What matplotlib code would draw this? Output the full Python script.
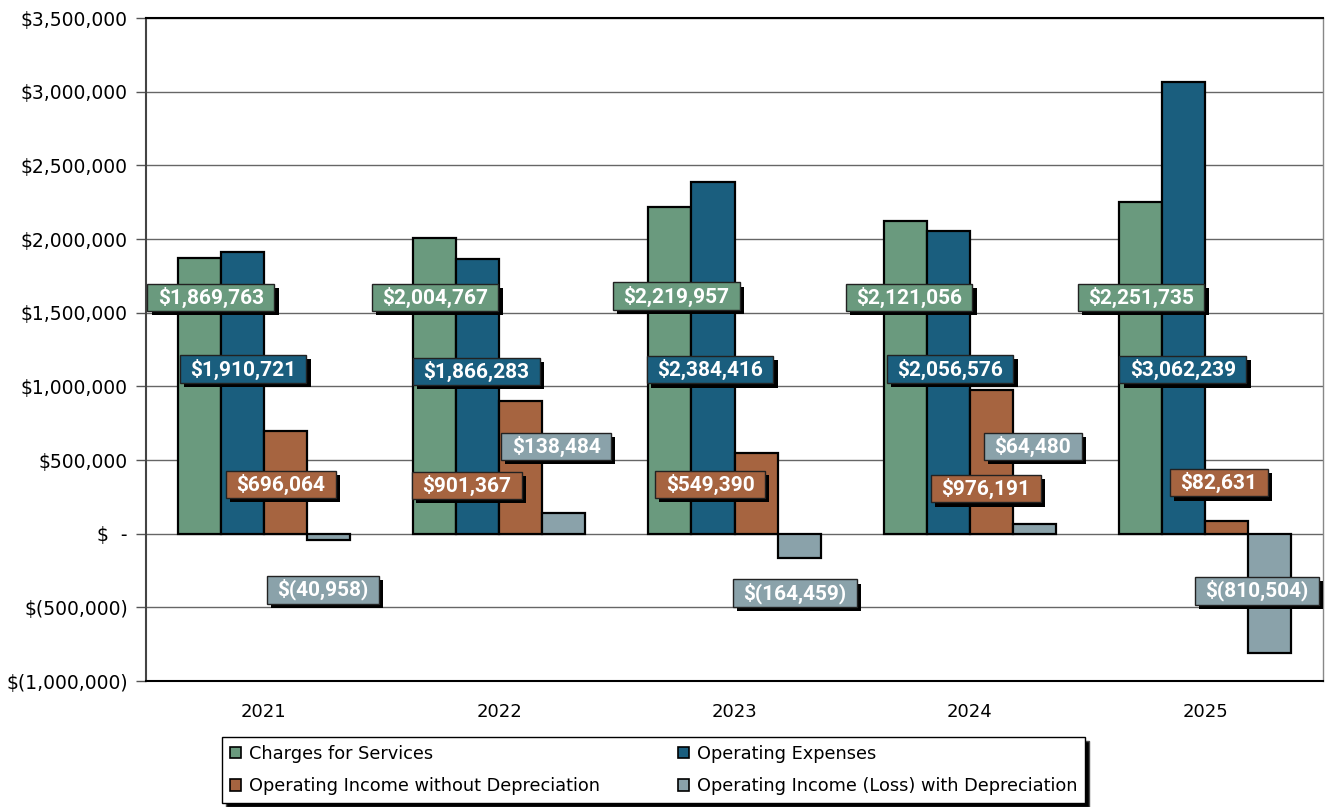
import matplotlib
matplotlib.use("Agg")
from matplotlib import pyplot as plt
from matplotlib.patches import Patch
from matplotlib.path import Path
import matplotlib.patheffects as pe
import numpy as np

years = ["2021", "2022", "2023", "2024", "2025"]
series_names = ["Charges for Services", "Operating Expenses",
                "Operating Income without Depreciation",
                "Operating Income (Loss) with Depreciation"]
charges = [1869763, 2004767, 2219957, 2121056, 2251735]
expenses = [1910721, 1866283, 2384416, 2056576, 3062239]
income_no_dep = [696064, 901367, 549390, 976191, 82631]
income_with_dep = [-40958, 138484, -164459, 64480, -810504]

colors = ["#6a9a7e", "#1a5e7e", "#a66440", "#8aa2aa"]

# hand placed label spots (data coords), one row per series
label_x = [[-0.224, 0.728, 1.752, 2.741, 3.727],
           [-0.088, 0.902, 1.896, 2.916, 3.905],
           [0.073, 0.864, 1.896, 3.068, 4.058],
           [0.252, 1.242, 2.257, 3.268, 4.220]]
label_y = [[1605000, 1605000, 1612000, 1605000, 1605000],
           [1118000, 1100000, 1113000, 1118000, 1113000],
           [333000, 326000, 333000, 305000, 346000],
           [-380000, 591000, -405000, 591000, -387000]]


def money(v):
    if v == 0:
        return "$-"
    s = "{:,.0f}".format(abs(v))
    if v < 0:
        return "$(" + s + ")"
    return "$" + s


def wide_box(x0, y0, width, height, mutation_size):
    # rectangle with more padding left/right than top/bottom
    px = 0.5 * mutation_size
    py = 0.15 * mutation_size
    x0, x1 = x0 - px, x0 + width + px
    y0, y1 = y0 - py, y0 + height + py
    return Path([(x0, y0), (x1, y0), (x1, y1), (x0, y1), (x0, y0)], closed=True)


fig = plt.figure(figsize=(13.25, 8.07), dpi=100)
ax = fig.add_axes([146 / 1325, 1 - 681 / 807, 1177 / 1325, 663 / 807])

data = [charges, expenses, income_no_dep, income_with_dep]
x = np.arange(len(years))
w = 0.183
for i, vals in enumerate(data):
    ax.bar(x + (i - 1.5) * w, vals, w, color=colors[i], edgecolor="black",
           linewidth=1.6, zorder=3)

ax.set_xlim(-0.5, 4.5)
ax.set_ylim(-1000000, 3500000)
ticks = np.arange(-1000000, 3500001, 500000)
ax.set_yticks(ticks)
ax.set_yticklabels(["$  -" if t == 0 else money(t) for t in ticks], fontsize=13.5)
ax.set_xticks(x)
ax.set_xticklabels(years, fontsize=13)
ax.tick_params(axis="x", length=0, pad=16)
ax.tick_params(axis="y", length=7, width=1, color="#555555", pad=6)
ax.yaxis.grid(True, color="#666666", linewidth=1, zorder=0)
ax.set_axisbelow(True)
ax.spines["left"].set_color("#444444")
ax.spines["left"].set_linewidth(1.5)
ax.spines["bottom"].set_color("black")
ax.spines["bottom"].set_linewidth(1.5)
ax.spines["top"].set_color("black")
ax.spines["top"].set_linewidth(1.5)
ax.spines["right"].set_color("#888888")
ax.spines["right"].set_linewidth(1)

box_shadow = [pe.SimplePatchShadow(offset=(3, -3), shadow_rgbFace="black", alpha=1),
              pe.Normal()]
for i, vals in enumerate(data):
    for j, v in enumerate(vals):
        t = ax.text(label_x[i][j], label_y[i][j], money(v),
                    family=["Roboto", "DejaVu Sans"], fontsize=15,
                    fontweight="bold", ha="center", va="center",
                    color="white", zorder=6,
                    bbox=dict(boxstyle=wide_box, fc=colors[i], ec="#222222", lw=1))
        t.get_bbox_patch().set_path_effects(box_shadow)

handles = [Patch(facecolor=colors[i], edgecolor="black", linewidth=1.2)
           for i in range(4)]
# matplotlib fills legend column by column, reorder so rows read like the original
order = [0, 2, 1, 3]
leg = fig.legend([handles[k] for k in order], [series_names[k] for k in order],
                 loc="upper left", bbox_to_anchor=(222 / 1325, 1 - 737 / 807),
                 ncol=2, fontsize=12.8, frameon=True, fancybox=False,
                 shadow={"ox": 3, "oy": -3, "facecolor": "black", "alpha": 1},
                 handlelength=0.6, handleheight=0.6, handletextpad=0.45,
                 columnspacing=4.4, borderpad=0.45, labelspacing=0.8,
                 borderaxespad=0)
leg.get_frame().set_edgecolor("black")
leg.get_frame().set_linewidth(1)

plt.savefig("out.png", dpi=100)
